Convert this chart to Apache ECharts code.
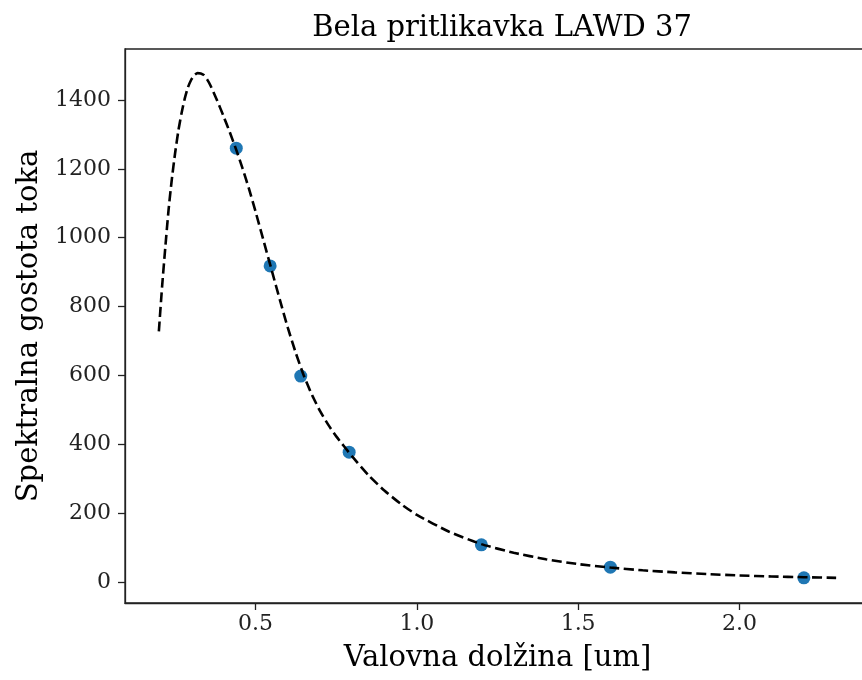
<!DOCTYPE html>
<html>
<head>
<meta charset="utf-8">
<title>Bela pritlikavka LAWD 37</title>
<script src="https://cdn.jsdelivr.net/npm/echarts@6/dist/echarts.min.js"></script>
<style>
  html, body { margin: 0; padding: 0; background: #fff; }
  #chart { width: 862px; height: 680px; }
</style>
</head>
<body>
<div id="chart"></div>
<script>
// izmerjene tocke (valovna dolzina v um, tok)
const measX = [0.44, 0.545, 0.64, 0.79, 1.2, 1.6, 2.2]
const measY = [1260, 918, 598, 377, 108, 43, 12]

// prilagojena krivulja (odcitana s slike)
const fitX = [0.20, 0.21, 0.22, 0.23, 0.24, 0.25, 0.26, 0.27, 0.28, 0.29, 0.30, 0.31, 0.32, 0.33, 0.34, 0.35, 0.36, 0.38, 0.40, 0.42, 0.44, 0.46, 0.48, 0.50, 0.525, 0.55, 0.575, 0.60, 0.625, 0.65, 0.675, 0.70, 0.725, 0.75, 0.80, 0.85, 0.90, 0.95, 1.00, 1.10, 1.20, 1.30, 1.40, 1.50, 1.60, 1.70, 1.80, 1.90, 2.00, 2.10, 2.20, 2.30]
const fitY = [728, 858, 972, 1080, 1168, 1243, 1308, 1360, 1403, 1436, 1458, 1472, 1478, 1477, 1472, 1459, 1442, 1400, 1354, 1306, 1255, 1200, 1140, 1075, 990, 905, 820, 738, 664, 598, 543, 496, 457, 423, 364, 310, 265, 227, 195, 146, 110, 85, 66, 52, 42, 34, 28, 23, 19, 16, 14, 12]

// oznake osi
const xTicks = [0.5, 1.0, 1.5, 2.0]
const yTicks = [0, 200, 400, 600, 800, 1000, 1200, 1400]

const font = 'DejaVu Serif'
const chart = echarts.init(document.getElementById('chart'))

const option = {
  animation: false,
  backgroundColor: '#fff',
  title: {
    text: 'Bela pritlikavka LAWD 37',
    left: 497,
    top: 9,
    textAlign: 'center',
    textStyle: { fontFamily: font, fontSize: 29, fontWeight: 'normal', color: '#000' }
  },
  grid: {
    left: 125,
    top: 49,
    width: 745,
    height: 554,
    show: true,
    borderColor: '#222',
    borderWidth: 1.3,
    backgroundColor: 'transparent',
    outerBoundsMode: 'none',
    containLabel: false
  },
  xAxis: {
    type: 'value',
    min: 0.095,
    max: 2.405,
    name: 'Valovna dolžina [um]',
    nameLocation: 'middle',
    nameGap: 41,
    nameTextStyle: { fontFamily: font, fontSize: 29, color: '#000' },
    axisLine: { show: true, onZero: false, lineStyle: { color: '#222', width: 1.3 } },
    axisTick: { show: true, length: 7, lineStyle: { color: '#222', width: 1.3 }, customValues: xTicks },
    axisLabel: {
      fontFamily: font, fontSize: 22, color: '#222', margin: 10,
      customValues: xTicks,
      formatter: (v) => v.toFixed(1)
    },
    splitLine: { show: false }
  },
  yAxis: {
    type: 'value',
    min: -61,
    max: 1548,
    name: 'Spektralna gostota toka',
    nameLocation: 'middle',
    nameGap: 80,
    nameTextStyle: { fontFamily: font, fontSize: 29, color: '#000' },
    axisLine: { show: true, onZero: false, lineStyle: { color: '#222', width: 1.3 } },
    axisTick: { show: true, length: 7, lineStyle: { color: '#222', width: 1.3 }, customValues: yTicks },
    axisLabel: {
      fontFamily: font, fontSize: 22, color: '#222', margin: 14,
      customValues: yTicks,
      formatter: (v) => String(v)
    },
    splitLine: { show: false }
  },
  series: [
    {
      name: 'meritve',
      type: 'scatter',
      data: measX.map((x, i) => [x, measY[i]]),
      symbolSize: 13,
      itemStyle: { color: '#1f77b4', opacity: 1 },
      z: 2
    },
    {
      name: 'krivulja',
      type: 'line',
      data: fitX.map((x, i) => [x, fitY[i]]),
      showSymbol: false,
      smooth: 0.2,
      lineStyle: { color: '#000', width: 2.6, type: [10, 4.5] },
      z: 3
    }
  ]
}

chart.setOption(option)
</script>
</body>
</html>
